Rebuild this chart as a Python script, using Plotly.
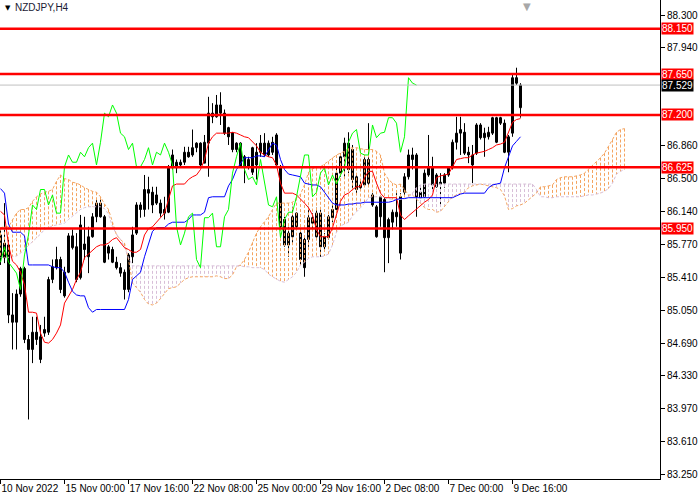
import plotly.graph_objects as go

# NZDJPY H4, bar index 0 = 10 Nov 2022 08:00
opens = [
    85.88, 85.63, 85.77, 85.00, 84.92, 85.23, 85.51, 84.73, 84.62, 84.81,
    84.51, 84.80, 84.81, 85.39, 85.52, 85.61, 85.47, 85.47, 85.74, 85.75,
    85.41, 85.78, 85.64, 85.86, 86.08, 86.23, 86.08, 85.68, 85.72, 85.58,
    85.52, 85.47, 85.28, 85.64, 85.90, 86.21, 86.16, 86.34, 86.35, 86.23,
    86.23, 86.16, 86.13, 86.62, 86.62, 86.65, 86.68, 86.79, 86.76, 86.84,
    86.89, 86.67, 86.89, 87.22, 87.18, 87.31, 87.22, 87.06, 87.00, 86.82,
    86.89, 86.74, 86.63, 86.57, 86.79, 86.89, 86.89, 86.76, 86.90, 86.98,
    86.63, 86.05, 85.77, 85.86, 85.97, 85.90, 85.83, 85.83, 86.01, 85.86,
    86.12, 85.86, 85.85, 86.07, 86.16, 86.56, 86.74, 86.89, 86.82, 86.38,
    86.40, 86.43, 86.71, 86.32, 85.86, 86.08, 86.27, 85.85, 86.02, 86.08,
    85.68, 86.35, 86.52, 86.71, 86.76, 86.29, 86.30, 86.54, 86.62, 86.41,
    86.46, 86.45, 86.54, 86.62, 86.90, 87.00, 87.01, 86.79, 86.65, 86.78,
    87.09, 86.95, 86.96, 87.00, 86.90, 87.17, 87.11, 86.79, 87.00, 87.61,
    87.28,
]
highs = [
    85.94, 86.23, 85.83, 85.24, 85.28, 85.53, 85.53, 84.78, 84.98, 84.98,
    84.89, 84.98, 85.42, 85.61, 85.75, 85.64, 85.53, 85.90, 85.94, 85.90,
    86.10, 86.08, 85.97, 86.12, 86.27, 86.27, 86.10, 85.77, 85.75, 85.64,
    85.57, 85.50, 85.68, 85.97, 86.24, 86.24, 86.54, 86.52, 86.41, 86.41,
    86.27, 86.30, 86.65, 86.82, 86.71, 86.71, 86.85, 86.85, 87.04, 86.90,
    86.90, 86.98, 87.40, 87.33, 87.42, 87.45, 87.26, 87.07, 87.01, 86.90,
    86.90, 86.76, 86.74, 86.85, 86.89, 86.98, 87.00, 86.92, 86.96, 87.00,
    86.65, 86.08, 85.97, 86.19, 86.13, 85.94, 85.86, 86.19, 86.12, 86.18,
    86.16, 85.90, 86.10, 86.23, 86.63, 86.78, 86.95, 87.01, 86.87, 86.54,
    86.49, 86.74, 87.11, 86.34, 86.21, 86.32, 86.29, 86.07, 86.16, 86.34,
    86.34, 86.56, 86.82, 86.84, 86.78, 86.41, 86.60, 86.98, 86.74, 86.56,
    86.56, 86.56, 86.63, 86.93, 87.18, 87.18, 87.11, 86.85, 86.87, 87.11,
    87.11, 87.06, 87.07, 87.18, 87.18, 87.18, 87.15, 86.98, 87.66, 87.72,
    87.55,
]
lows = [
    85.55, 85.57, 84.91, 84.62, 84.62, 85.20, 84.69, 83.85, 84.47, 84.67,
    84.47, 84.76, 84.78, 85.35, 85.50, 85.24, 85.19, 85.46, 85.72, 85.36,
    85.39, 85.61, 85.46, 85.85, 86.02, 86.07, 85.57, 85.61, 85.57, 85.50,
    85.42, 85.17, 85.25, 85.57, 85.88, 86.07, 86.08, 86.16, 86.12, 86.21,
    86.08, 86.05, 86.12, 86.60, 86.56, 86.63, 86.65, 86.73, 86.74, 86.79,
    86.63, 86.67, 86.52, 87.11, 87.17, 87.09, 86.98, 86.87, 86.79, 86.79,
    86.62, 86.45, 86.60, 86.54, 86.49, 86.74, 86.74, 86.74, 86.76, 86.63,
    85.94, 85.75, 85.64, 85.79, 85.94, 85.55, 85.42, 85.75, 85.94, 85.85,
    85.64, 85.72, 85.83, 86.02, 86.13, 86.52, 86.52, 86.56, 86.38, 86.32,
    86.38, 86.41, 86.41, 86.19, 85.85, 85.97, 85.47, 85.57, 85.94, 85.97,
    85.61, 86.30, 86.49, 86.60, 86.08, 86.29, 86.29, 86.52, 86.38, 86.40,
    86.19, 86.40, 86.52, 86.60, 86.82, 86.76, 86.76, 86.67, 86.45, 86.76,
    86.93, 86.74, 86.93, 86.98, 86.89, 87.09, 86.78, 86.57, 86.96, 87.53,
    87.17,
]
closes = [
    85.63, 85.79, 85.00, 84.92, 85.23, 85.51, 84.73, 84.62, 84.81, 84.73,
    84.76, 84.84, 85.39, 85.53, 85.61, 85.28, 85.21, 85.87, 85.87, 85.39,
    85.99, 85.72, 85.86, 86.08, 86.23, 86.08, 85.58, 85.75, 85.58, 85.52,
    85.46, 85.28, 85.66, 85.88, 86.21, 86.16, 86.38, 86.38, 86.21, 86.32,
    86.12, 86.12, 86.63, 86.76, 86.68, 86.68, 86.79, 86.74, 86.84, 86.89,
    86.65, 86.90, 87.22, 87.18, 87.31, 87.22, 87.00, 86.96, 86.82, 86.89,
    86.63, 86.63, 86.71, 86.84, 86.65, 86.79, 86.76, 86.89, 86.79, 86.65,
    85.97, 85.77, 85.90, 86.08, 86.12, 85.61, 85.52, 86.07, 86.07, 86.12,
    85.75, 85.75, 86.08, 86.16, 86.56, 86.74, 86.89, 86.60, 86.49, 86.52,
    86.43, 86.71, 86.45, 86.21, 86.19, 86.30, 85.85, 86.05, 86.13, 86.13,
    86.30, 86.52, 86.76, 86.76, 86.30, 86.35, 86.56, 86.62, 86.43, 86.54,
    86.44, 86.54, 86.62, 86.90, 87.00, 87.04, 86.78, 86.76, 86.76, 87.09,
    86.95, 87.00, 87.01, 87.17, 87.17, 87.11, 86.79, 86.96, 87.61, 87.55,
    87.529,
]

# Ichimoku lines as drawn on the chart
tenkan = [
    86.14, 86.10, 85.77, 85.59, 85.55, 85.47, 85.33, 85.03, 85.03, 85.02,
    84.80, 84.70, 84.69, 84.73, 84.80, 84.89, 85.13, 85.20, 85.28, 85.39,
    85.47, 85.63, 85.67, 85.72, 85.75, 85.77, 85.77, 85.79, 85.83, 85.85,
    85.80, 85.74, 85.72, 85.69, 85.69, 85.72, 85.88, 85.95, 85.97, 86.02,
    86.06, 86.12, 86.27, 86.42, 86.44, 86.44, 86.44, 86.49, 86.52, 86.54,
    86.60, 86.71, 86.89, 86.96, 87.00, 87.00, 87.00, 87.00, 87.01, 87.00,
    86.98, 86.96, 86.95, 86.91, 86.86, 86.79, 86.76, 86.74, 86.73, 86.65,
    86.45, 86.34, 86.34, 86.34, 86.32, 86.28, 86.23, 86.18, 86.10, 85.94,
    85.86, 85.86, 85.86, 85.96, 86.12, 86.25, 86.32, 86.34, 86.38, 86.41,
    86.41, 86.51, 86.58, 86.58, 86.45, 86.34, 86.29, 86.29, 86.29, 86.29,
    86.10, 86.05, 86.09, 86.13, 86.16, 86.20, 86.24, 86.27, 86.32, 86.51,
    86.53, 86.54, 86.55, 86.63, 86.71, 86.72, 86.73, 86.73, 86.76, 86.78,
    86.79, 86.80, 86.82, 86.84, 86.87, 86.88, 86.90, 87.01, 87.12, 87.15,
    87.16,
]
kijun = [
    86.39, 86.34, 86.00, 85.91, 85.91, 85.91, 85.87, 85.55, 85.55, 85.55,
    85.55, 85.55, 85.55, 85.53, 85.52, 85.52, 85.47, 85.36, 85.26, 85.22,
    85.21, 85.21, 85.08, 85.03, 85.06, 85.06, 85.06, 85.06, 85.06, 85.06,
    85.06, 85.06, 85.17, 85.39, 85.43, 85.47, 85.64, 85.77, 85.92, 85.96,
    85.96, 85.96, 86.00, 86.02, 86.02, 86.02, 86.02, 86.05, 86.10, 86.10,
    86.10, 86.13, 86.29, 86.30, 86.30, 86.30, 86.30, 86.42, 86.49, 86.60,
    86.67, 86.73, 86.73, 86.73, 86.75, 86.75, 86.74, 86.82, 86.89, 86.87,
    86.71, 86.60, 86.55, 86.54, 86.53, 86.52, 86.45, 86.44, 86.43, 86.43,
    86.41, 86.35, 86.29, 86.23, 86.21, 86.21, 86.21, 86.22, 86.22, 86.23,
    86.23, 86.24, 86.24, 86.24, 86.24, 86.24, 86.24, 86.24, 86.25, 86.27,
    86.28, 86.28, 86.29, 86.29, 86.29, 86.29, 86.29, 86.29, 86.29, 86.29,
    86.29, 86.29, 86.29, 86.29, 86.31, 86.33, 86.34, 86.34, 86.34, 86.34,
    86.34, 86.34, 86.40, 86.43, 86.44, 86.45, 86.62, 86.74, 86.86, 86.91,
    86.96,
]
# senkou spans run 26 bars past the last candle
span_a = [
    85.96, 85.97, 85.97, 86.05, 86.12, 86.16, 86.16, 86.18, 86.25, 86.30,
    86.33, 86.35, 86.36, 86.38, 86.47, 86.54, 86.50, 86.49, 86.46, 86.45,
    86.43, 86.40, 86.38, 86.36, 86.35, 86.30, 86.22, 86.16, 86.02, 85.88,
    85.83, 85.79, 85.61, 85.35, 85.30, 85.25, 85.17, 85.12, 85.11, 85.13,
    85.18, 85.24, 85.29, 85.30, 85.31, 85.35, 85.39, 85.41, 85.42, 85.42,
    85.42, 85.42, 85.42, 85.42, 85.43, 85.42, 85.40, 85.40, 85.44, 85.53,
    85.55, 85.61, 85.69, 85.80, 85.90, 85.97, 86.02, 86.08, 86.16, 86.23,
    86.23, 86.23, 86.23, 86.24, 86.29, 86.33, 86.43, 86.57, 86.61, 86.62,
    86.63, 86.66, 86.69, 86.73, 86.76, 86.78, 86.80, 86.83, 86.84, 86.84,
    86.83, 86.82, 86.82, 86.82, 86.80, 86.76, 86.56, 86.49, 86.45, 86.43,
    86.44, 86.38, 86.32, 86.32, 86.28, 86.23, 86.18, 86.16, 86.16, 86.13,
    86.14, 86.19, 86.25, 86.30, 86.32, 86.34, 86.35, 86.40, 86.42, 86.43,
    86.44, 86.43, 86.42, 86.41, 86.40, 86.38, 86.31, 86.16, 86.17, 86.20,
    86.21, 86.23, 86.27, 86.30, 86.34, 86.41, 86.41, 86.42, 86.43, 86.49,
    86.51, 86.52, 86.52, 86.52, 86.53, 86.54, 86.56, 86.60, 86.65, 86.68,
    86.73, 86.78, 86.85, 86.93, 87.01, 87.04, 87.05,
]
span_b = [
    85.63, 85.63, 85.63, 85.64, 85.65, 85.68, 85.72, 85.76, 85.80, 85.85,
    85.89, 85.94, 85.96, 85.98, 85.99, 86.00, 86.01, 86.05, 86.09, 86.12,
    86.16, 86.18, 86.19, 86.19, 86.19, 86.19, 86.17, 86.11, 85.97, 85.89,
    85.83, 85.75, 85.63, 85.54, 85.54, 85.54, 85.54, 85.54, 85.54, 85.54,
    85.54, 85.54, 85.54, 85.54, 85.54, 85.54, 85.54, 85.54, 85.54, 85.54,
    85.54, 85.54, 85.54, 85.54, 85.54, 85.54, 85.54, 85.54, 85.54, 85.54,
    85.54, 85.53, 85.53, 85.52, 85.52, 85.52, 85.50, 85.45, 85.42, 85.39,
    85.37, 85.36, 85.39, 85.42, 85.47, 85.55, 85.58, 85.62, 85.64, 85.64,
    85.64, 85.65, 85.67, 85.77, 85.91, 85.98, 86.00, 86.02, 86.09, 86.13,
    86.18, 86.23, 86.29, 86.30, 86.30, 86.30, 86.29, 86.28, 86.27, 86.27,
    86.27, 86.28, 86.30, 86.34, 86.40, 86.43, 86.44, 86.44, 86.44, 86.44,
    86.44, 86.44, 86.44, 86.44, 86.44, 86.44, 86.44, 86.44, 86.44, 86.44,
    86.44, 86.44, 86.44, 86.44, 86.44, 86.44, 86.44, 86.44, 86.44, 86.44,
    86.44, 86.44, 86.44, 86.44, 86.38, 86.30, 86.30, 86.29, 86.29, 86.30,
    86.30, 86.30, 86.30, 86.30, 86.30, 86.30, 86.31, 86.32, 86.32, 86.33,
    86.34, 86.36, 86.39, 86.45, 86.55, 86.58, 86.60,
]
chikou_lag = 26

levels = [88.150, 87.650, 87.200, 86.625, 85.950]
bid = 87.529

y_ticks = [88.300, 87.940, 86.860, 86.500, 86.140, 85.770, 85.410,
           85.050, 84.690, 84.330, 83.970, 83.610, 83.250]
x_tick_bars = [0, 16, 32, 48, 64, 80, 96, 112, 128]
x_tick_labels = ["10 Nov 2022", "15 Nov 00:00", "17 Nov 16:00", "22 Nov 08:00",
                 "25 Nov 00:00", "29 Nov 16:00", "2 Dec 08:00", "7 Dec 00:00",
                 "9 Dec 16:00"]

FONT = "Liberation Sans, Arial, sans-serif"
idx = list(range(len(closes)))

fig = go.Figure()

# candle wicks
wick_x, wick_y = [], []
for i in idx:
    wick_x += [i, i, None]
    wick_y += [highs[i], lows[i], None]
fig.add_trace(go.Scatter(x=wick_x, y=wick_y, mode="lines",
                         line=dict(color="black", width=1), hoverinfo="skip"))

# candle bodies
for bull in (True, False):
    xs = [i for i in idx if (closes[i] >= opens[i]) == bull]
    fig.add_trace(go.Bar(
        x=xs,
        base=[min(opens[i], closes[i]) for i in xs],
        y=[max(abs(closes[i] - opens[i]), 0.008) for i in xs],
        width=0.5,
        marker=dict(color="white" if bull else "black",
                    line=dict(color="black", width=1)),
        hoverinfo="skip",
    ))

# kumo hatch
up_x, up_y, dn_x, dn_y = [], [], [], []
for k, (a, b) in enumerate(zip(span_a, span_b)):
    if a >= b:
        up_x += [k, k, None]
        up_y += [a, b, None]
    else:
        dn_x += [k, k, None]
        dn_y += [b, a, None]
hatch = dict(width=1, dash="3px,2px")
fig.add_trace(go.Scatter(x=up_x, y=up_y, mode="lines", hoverinfo="skip",
                         line=dict(color="#F4A460", **hatch)))
fig.add_trace(go.Scatter(x=dn_x, y=dn_y, mode="lines", hoverinfo="skip",
                         line=dict(color="#D8BFD8", **hatch)))
fig.add_trace(go.Scatter(x=list(range(len(span_a))), y=span_a, mode="lines", hoverinfo="skip",
                         line=dict(color="#F4A460", **hatch)))
fig.add_trace(go.Scatter(x=list(range(len(span_b))), y=span_b, mode="lines", hoverinfo="skip",
                         line=dict(color="#D8BFD8", **hatch)))

# tenkan / kijun / chikou
fig.add_trace(go.Scatter(x=idx, y=tenkan, mode="lines", hoverinfo="skip",
                         line=dict(color="#FF0000", width=1)))
fig.add_trace(go.Scatter(x=idx, y=kijun, mode="lines", hoverinfo="skip",
                         line=dict(color="#0000FF", width=1)))
fig.add_trace(go.Scatter(x=idx[:len(closes) - chikou_lag], y=closes[chikou_lag:],
                         mode="lines", hoverinfo="skip",
                         line=dict(color="#00FF00", width=1)))

# horizontal levels + bid line
fig.add_hline(y=bid, line_color="#C0C0C0", line_width=1)
for lv in levels:
    fig.add_hline(y=lv, line_color="#FF0000", line_width=2.5)
    fig.add_annotation(x=1, xref="paper", y=lv, yref="y", text=f"{lv:.3f}",
                       showarrow=False, xanchor="left", xshift=1, bgcolor="#FF0000",
                       borderpad=0, font=dict(color="white", size=10, family=FONT))
fig.add_annotation(x=1, xref="paper", y=bid, yref="y", text=f"{bid:.3f}",
                   showarrow=False, xanchor="left", xshift=1, bgcolor="black",
                   borderpad=0, font=dict(color="white", size=10, family=FONT))

# header and chart-shift marker
fig.add_annotation(x=0, xref="paper", y=1, yref="paper", text="▼", showarrow=False,
                   xanchor="left", yanchor="top", xshift=3, yshift=-2,
                   font=dict(color="black", size=7, family="DejaVu Sans"))
fig.add_annotation(x=0, xref="paper", y=1, yref="paper", text="NZDJPY,H4", showarrow=False,
                   xanchor="left", yanchor="top", xshift=13, yshift=0,
                   font=dict(color="#1a1a33", size=10, family=FONT))
fig.add_annotation(x=len(closes) + 0.5, xref="x", y=1, yref="paper", text="▼", showarrow=False,
                   yanchor="top", yshift=1,
                   font=dict(color="#A8A8A8", size=10, family="DejaVu Sans"))

fig.update_layout(
    width=700, height=500,
    margin=dict(l=0, r=40, t=0, b=21, autoexpand=False),
    paper_bgcolor="white", plot_bgcolor="white",
    showlegend=False, barmode="overlay",
    xaxis=dict(range=[-0.125, 164.875], showgrid=False, zeroline=False,
               showline=True, linecolor="black", linewidth=1,
               ticks="outside", ticklen=4, tickcolor="black",
               tickvals=x_tick_bars, ticktext=x_tick_labels,
               tickangle=0, ticklabelposition="outside right", automargin=False,
               tickfont=dict(size=10, color="black", family=FONT),
               fixedrange=True),
    yaxis=dict(range=[83.195, 88.465], side="right", showgrid=False, zeroline=False,
               showline=True, linecolor="black", linewidth=1,
               ticks="outside", ticklen=4, tickcolor="black",
               tickvals=y_ticks, ticktext=[f"{v:.3f}" for v in y_ticks],
               automargin=False,
               tickfont=dict(size=10, color="black", family=FONT),
               fixedrange=True),
)

# drop the page's default 8px body margin so the figure sits at the window origin
fig.write_html("out.html", config={"displayModeBar": False},
               post_script="document.body.style.margin='0';")
